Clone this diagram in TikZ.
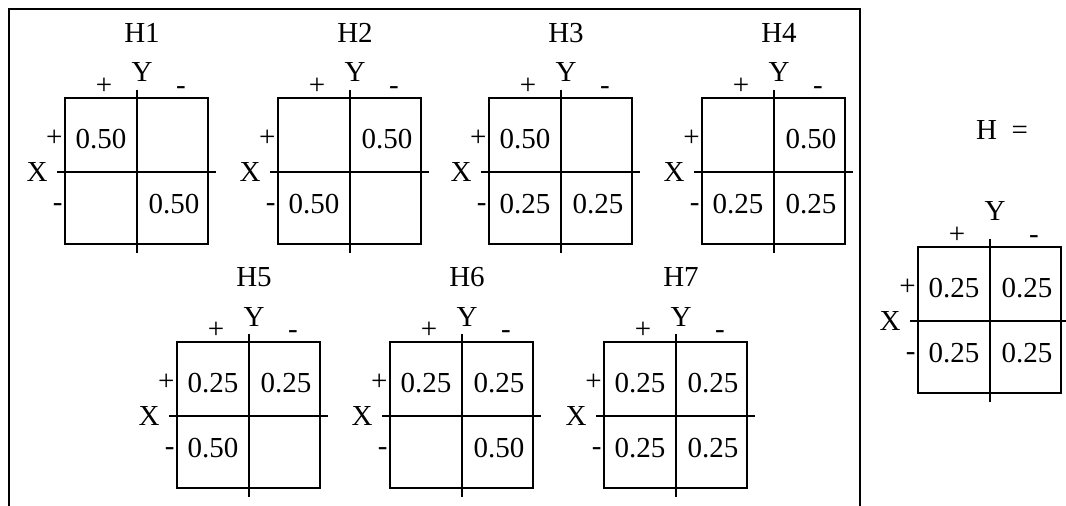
\documentclass[tikz,border=0pt]{standalone}
\usepackage{fontspec}
\setmainfont{Liberation Serif}
\usetikzlibrary{positioning}

% one 2x2 table: name, cross x, cross y, title, four cells, height of Y
\newcommand{\hgrid}[9]{%
    % Nodes
    \coordinate (#1) at (#2,#3);
    \coordinate (#1-l) at ({#2-80},#3);
    \coordinate (#1-r) at ({#2+79},#3);
    \coordinate (#1-t) at (#2,{#3-82});
    \coordinate (#1-b) at (#2,{#3+81});
    \node (#1-title) at ({#2+5},{#3-139}) {#4};
    \node (#1-y) at ({#2+5},{#3-#9}) {Y};
    \node[anchor=base] (#1-yp) at ({#2-33},{#3-77}) {+};
    \node[anchor=base] (#1-ym) at ({#2+44},{#3-77}) {-};
    \node (#1-x) at ({#2-100},#3) {X};
    \node[sign] (#1-xp) at ({#2-72},{#3-25}) {+};
    \node[sign] (#1-xm) at ({#2-72},{#3+40}) {-};
    \node (#1-ul) at ({#2-36},{#3-33}) {#5};
    \node (#1-ur) at ({#2+37},{#3-33}) {#6};
    \node (#1-ll) at ({#2-36},{#3+32}) {#7};
    \node (#1-lr) at ({#2+37},{#3+32}) {#8};

    % Lines
    \draw ({#2-72},{#3-74}) rectangle ({#2+71},{#3+72});
    \draw (#1-l) -- (#1-r);
    \draw (#1-t) -- (#1-b);
}

\begin{document}
\begin{tikzpicture}[x=0.5pt, y=-0.5pt, line width=1.4pt,
    every node/.style={font=\fontsize{14.5}{17}\selectfont, inner sep=0pt},
    sign/.style={anchor=base east, inner sep=0.5pt}]
    \useasboundingbox (0,0) rectangle (1066,506);

    % frame, open at the bottom
    \coordinate (frame-bl) at (9,506);
    \coordinate (frame-tl) at (9,9);
    \coordinate (frame-tr) at (860,9);
    \coordinate (frame-br) at (860,506);
    \draw (frame-bl) -- (frame-tl) -- (frame-tr) -- (frame-br);

    % first row
    \hgrid{h1}{137}{172}{H1}{0.50}{}{}{0.50}{100}
    \hgrid{h2}{350}{172}{H2}{}{0.50}{0.50}{}{100}
    \hgrid{h3}{561}{172}{H3}{0.50}{}{0.25}{0.25}{100}
    \hgrid{h4}{774}{172}{H4}{}{0.50}{0.25}{0.25}{100}

    % second row
    \hgrid{h5}{249}{416}{H5}{0.25}{0.25}{0.50}{}{99}
    \hgrid{h6}{462}{416}{H6}{0.25}{0.25}{}{0.50}{99}
    \hgrid{h7}{676}{416}{H7}{0.25}{0.25}{0.25}{0.25}{99}

    % the sum
    \node (h-eq) at (1002,130) {H\ \ =};
    \hgrid{h}{990}{321}{}{0.25}{0.25}{0.25}{0.25}{110}

\end{tikzpicture}
\end{document}
